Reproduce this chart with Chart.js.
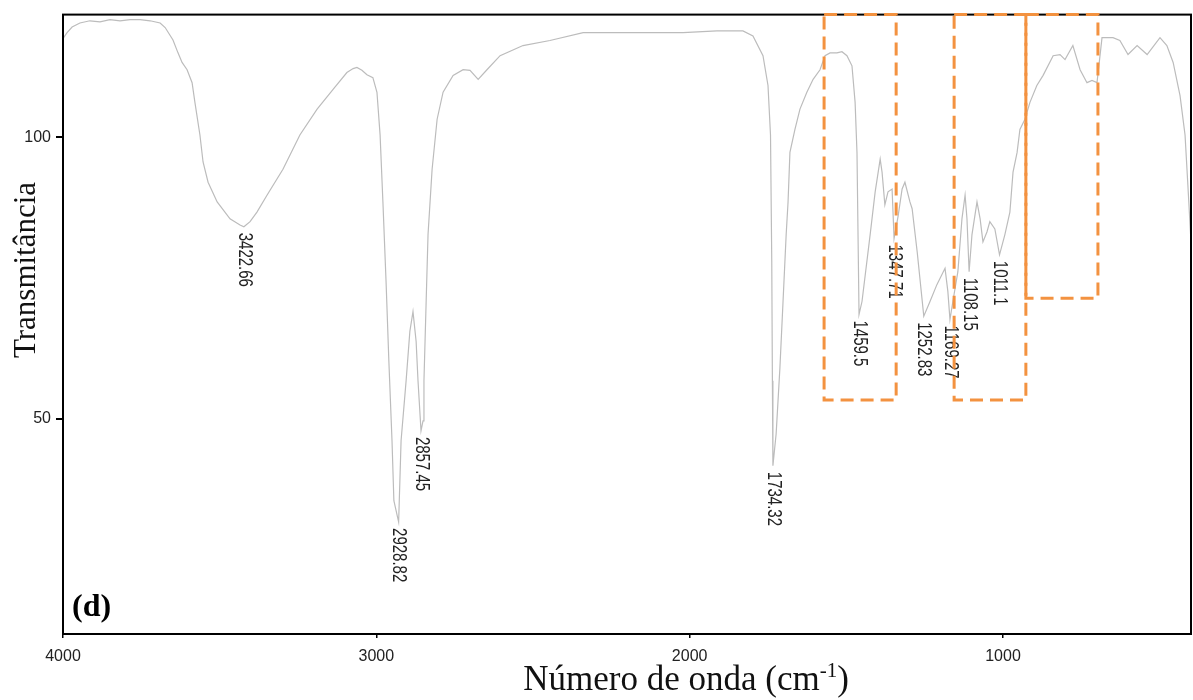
<!DOCTYPE html>
<html>
<head>
<meta charset="utf-8">
<script src="https://cdn.jsdelivr.net/npm/chart.js@4.4.1/dist/chart.umd.min.js"></script>
<style>
  html, body { margin: 0; padding: 0; background: #ffffff; }
  #wrap { width: 1193px; height: 700px; }
</style>
</head>
<body>
<div id="wrap"><canvas id="c" width="1193" height="700"></canvas></div>
<script>
// ---- data ----
const wavenumber = [
  3998, 3987, 3971, 3946, 3914, 3882, 3850, 3818, 3786, 3754,
  3722, 3690, 3674, 3649, 3633, 3620, 3604, 3588, 3579, 3563,
  3553, 3537, 3508, 3467, 3435, 3422.66, 3403, 3381, 3349, 3298,
  3244, 3189, 3138, 3094, 3074, 3062, 3046, 3030, 3011, 2998,
  2988, 2979, 2969, 2960, 2950, 2944, 2928.82, 2921, 2905, 2893,
  2883, 2873, 2867, 2857.45, 2851, 2848, 2841, 2835, 2822, 2806,
  2787, 2755, 2723, 2701, 2675, 2647, 2605, 2532, 2446, 2340,
  2232, 2127, 2021, 1913, 1830, 1798, 1766, 1750, 1742, 1738,
  1736, 1734.32, 1724, 1712, 1702, 1692, 1686, 1680, 1664, 1648,
  1626, 1606, 1584, 1568, 1552, 1530, 1514, 1498, 1482, 1472,
  1466, 1462, 1459.5, 1450, 1424, 1408, 1392, 1386, 1377, 1367,
  1354, 1347.71, 1335, 1322, 1313, 1297, 1290, 1274, 1252.83, 1233,
  1211, 1185, 1176, 1169.27, 1160, 1144, 1131, 1121, 1115, 1108.15,
  1099, 1083, 1073, 1064, 1051, 1042, 1026, 1011.1, 994, 978,
  968, 955, 946, 930, 914, 892, 872, 840, 818, 802,
  777, 754, 732, 716, 700, 684, 649, 627, 601, 572,
  540, 499, 477, 457, 435, 419, 410, 400
];
const transmittance = [
  117.7, 118.6, 119.6, 120.3, 120.7, 120.5, 120.9, 120.7, 120.9, 120.9,
  120.7, 120.3, 119.5, 117.3, 115.0, 113.3, 112.0, 109.7, 106.2, 100.4,
  95.6, 92.0, 88.5, 85.5, 84.4, 84.1, 85.0, 86.7, 89.7, 94.3,
  100.4, 105.0, 108.5, 111.5, 112.2, 112.4, 111.9, 111.1, 110.6, 108.0,
  100.4, 88.5, 74.4, 60.2, 46.1, 35.4, 31.6, 46.1, 56.7, 65.5,
  69.0, 63.7, 56.7, 47.8, 49.6, 56.7, 70.8, 82.7, 94.3, 103.2,
  108.0, 111.0, 112.0, 111.9, 110.3, 112.0, 114.5, 116.3, 117.2, 118.6,
  118.6, 118.6, 118.6, 118.9, 118.9, 118.0, 114.5, 109.2, 100.4, 77.9,
  56.7, 41.6, 47.3, 59.0, 70.8, 82.7, 88.5, 97.3, 101.4, 105.0,
  108.0, 110.3, 112.0, 114.5, 115.0, 115.0, 115.2, 114.5, 112.7, 106.2,
  97.3, 79.7, 68.5, 70.8, 82.7, 90.3, 96.1, 93.8, 88.0, 90.3,
  90.8, 82.0, 85.9, 90.8, 92.0, 88.5, 87.3, 79.7, 68.2, 70.8,
  73.8, 76.7, 72.6, 67.6, 70.8, 76.1, 85.5, 89.7, 85.5, 76.1,
  82.7, 88.5, 85.5, 81.4, 83.2, 85.0, 83.7, 79.1, 82.7, 86.7,
  93.8, 97.3, 101.4, 103.2, 106.2, 109.2, 111.0, 114.5, 114.7, 113.8,
  116.3, 112.0, 109.7, 110.1, 109.7, 117.7, 117.7, 117.2, 114.7, 116.3,
  114.7, 117.7, 116.3, 113.3, 107.4, 100.4, 91.5, 81.4
];
const peakWavenumbers = [3422.66, 2928.82, 2857.45, 1734.32, 1459.5, 1347.71, 1252.83, 1169.27, 1108.15, 1011.1];
const xTickValues = [4000, 3000, 2000, 1000];
const yTickValues = [50, 100];
// highlighted regions: [high wavenumber, low wavenumber, lower transmittance bound]
const regionHigh = [1571, 1156, 927];
const regionLow  = [1341, 927, 697];
const regionBottom = [53.3, 53.3, 71.4];

const xTitle = 'Número de onda (cm';
const xTitleSup = '-1';
const yTitle = 'Transmitância';
const panelLabel = '(d)';

const points = wavenumber.map((w, i) => ({ x: w, y: transmittance[i] }));

const overlay = {
  id: 'overlay',
  afterDatasetsDraw(chart) {
    const ctx = chart.ctx;
    const xs = chart.scales.x, ys = chart.scales.y;
    const a = chart.chartArea;
    ctx.save();
    // frame
    ctx.strokeStyle = '#000';
    ctx.lineWidth = 2;
    ctx.strokeRect(a.left, a.top, a.right - a.left, a.bottom - a.top);

    // peak labels
    ctx.fillStyle = '#222';
    ctx.font = '15px "Liberation Sans", Arial, sans-serif';
    ctx.textAlign = 'left';
    ctx.textBaseline = 'middle';
    peakWavenumbers.forEach(w => {
      const idx = wavenumber.indexOf(w);
      const px = xs.getPixelForValue(w);
      const py = ys.getPixelForValue(transmittance[idx]);
      ctx.save();
      ctx.translate(px, py + 6);
      ctx.scale(1.3, 1);
      ctx.rotate(Math.PI / 2);
      ctx.fillText(String(w), 0, 0);
      ctx.restore();
    });

    // dashed regions
    ctx.strokeStyle = '#f39240';
    ctx.lineWidth = 3;
    ctx.setLineDash([13, 7]);
    regionHigh.forEach((hi, i) => {
      const x1 = xs.getPixelForValue(hi);
      const x2 = xs.getPixelForValue(regionLow[i]);
      const y1 = ys.getPixelForValue(ys.max);
      const y2 = ys.getPixelForValue(regionBottom[i]);
      ctx.strokeRect(x1, y1, x2 - x1, y2 - y1);
    });
    ctx.setLineDash([]);

    // panel label
    ctx.fillStyle = '#000';
    ctx.font = 'bold 32px "Liberation Serif", "Times New Roman", serif';
    ctx.textAlign = 'left';
    ctx.textBaseline = 'alphabetic';
    ctx.fillText(panelLabel, a.left + 9, a.bottom - 18);

    // y title
    ctx.save();
    ctx.font = '31px "Liberation Serif", "Times New Roman", serif';
    ctx.fillStyle = '#111';
    ctx.textAlign = 'center';
    ctx.textBaseline = 'middle';
    ctx.translate(27, 270);
    ctx.rotate(-Math.PI / 2);
    ctx.fillText(yTitle, 0, 0);
    ctx.restore();

    // x title with superscript
    const mainFont = '35px "Liberation Serif", "Times New Roman", serif';
    const supFont = '21px "Liberation Serif", "Times New Roman", serif';
    ctx.font = mainFont;
    const w1 = ctx.measureText(xTitle).width;
    const w3 = ctx.measureText(')').width;
    ctx.font = supFont;
    const w2 = ctx.measureText(xTitleSup).width;
    const total = w1 + w2 + w3;
    const cx = (a.left + a.right) / 2 + 59;
    let x0 = cx - total / 2;
    const base = 690;
    ctx.fillStyle = '#111';
    ctx.textAlign = 'left';
    ctx.textBaseline = 'alphabetic';
    ctx.font = mainFont;
    ctx.fillText(xTitle, x0, base);
    ctx.font = supFont;
    ctx.fillText(xTitleSup, x0 + w1, base - 13);
    ctx.font = mainFont;
    ctx.fillText(')', x0 + w1 + w2, base);
    ctx.restore();
  }
};

new Chart(document.getElementById('c'), {
  type: 'line',
  data: {
    datasets: [{
      data: points,
      borderColor: '#bcbcbc',
      borderWidth: 1.2,
      pointRadius: 0,
      tension: 0,
      fill: false
    }]
  },
  options: {
    responsive: false,
    animation: false,
    devicePixelRatio: 1,
    layout: { padding: { top: 12, right: 2, left: 0, bottom: 0 } },
    plugins: { legend: { display: false }, tooltip: { enabled: false } },
    scales: {
      x: {
        type: 'linear',
        reverse: true,
        min: 400,
        max: 4000,
        afterFit(axis) { axis.height = 66; },
        afterBuildTicks(axis) { axis.ticks = xTickValues.map(v => ({ value: v })); },
        ticks: {
          color: '#222',
          font: { family: '"Liberation Sans", Arial, sans-serif', size: 16 },
          padding: 9,
          maxRotation: 0,
          autoSkip: false,
          callback: v => String(v)
        },
        grid: { drawOnChartArea: false, drawTicks: true, tickLength: 4, color: '#000', lineWidth: 1.5 },
        border: { display: false }
      },
      y: {
        type: 'linear',
        min: 11.7,
        max: 121.8,
        afterFit(axis) { axis.width = 63; },
        afterBuildTicks(axis) { axis.ticks = yTickValues.map(v => ({ value: v })); },
        ticks: {
          color: '#222',
          font: { family: '"Liberation Sans", Arial, sans-serif', size: 16 },
          padding: 5,
          autoSkip: false,
          callback: v => String(v)
        },
        grid: { drawOnChartArea: false, drawTicks: true, tickLength: 7, color: '#000', lineWidth: 2 },
        border: { display: false }
      }
    }
  },
  plugins: [overlay]
});
</script>
</body>
</html>
